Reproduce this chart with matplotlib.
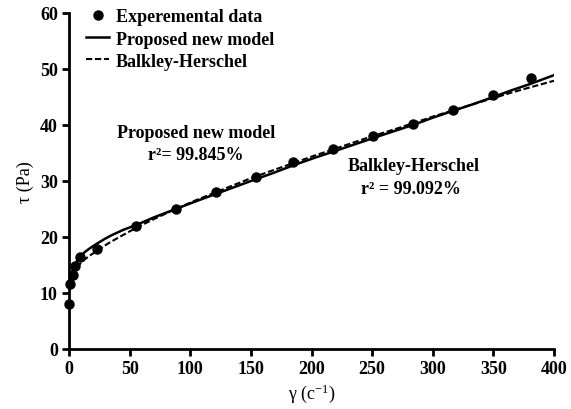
import matplotlib
matplotlib.use("Agg")
import matplotlib.pyplot as plt
from matplotlib.lines import Line2D

plt.rcParams['font.family'] = ['Liberation Serif', 'DejaVu Serif']
plt.rcParams['font.weight'] = 'bold'
plt.rcParams['mathtext.default'] = 'regular'

# Experimental data
shear_rate = [0, 1, 3, 5, 9, 23, 55, 88, 121, 154, 185, 218, 251, 284, 317, 350, 381]
stress = [8.1, 11.6, 13.2, 14.8, 16.5, 17.8, 22.0, 25.0, 28.0, 30.8, 33.4, 35.8, 38.0, 40.2, 42.6, 45.3, 48.4]

# Model curves
model_x = [0, 0.5, 1, 2, 3, 4.5, 6, 8, 10, 13, 16, 20, 23, 29, 35, 45, 55, 70, 88, 105, 120, 135, 150,
           168, 185, 202, 220, 235, 250, 268, 285, 300, 315, 333, 350, 365, 380, 390, 400]
proposed_y = [10.5, 11.6, 12.5, 13.4, 14.0, 14.8, 15.5, 16.2, 16.7, 17.3, 17.8, 18.4, 18.8, 19.6, 20.3, 21.3,
              22.1, 23.5, 25.0, 26.4, 27.6, 28.8, 30.0, 31.4, 32.8, 34.1, 35.4, 36.5, 37.6, 38.9, 40.1, 41.3,
              42.4, 43.7, 45.0, 46.2, 47.3, 48.1, 48.9]
hb_y = [10.0, 11.0, 11.8, 12.5, 13.0, 13.7, 14.3, 14.9, 15.4, 16.0, 16.5, 17.1, 17.5, 18.4, 19.2, 20.4,
        21.6, 23.2, 25.0, 26.6, 27.9, 29.2, 30.5, 31.9, 33.2, 34.5, 35.8, 36.9, 38.0, 39.2, 40.4, 41.5,
        42.5, 43.7, 44.8, 45.8, 46.7, 47.3, 47.9]

x_ticks = [0, 50, 100, 150, 200, 250, 300, 350, 400]
y_ticks = [0, 10, 20, 30, 40, 50, 60]

FS = 13

fig = plt.figure(figsize=(5.71, 4.10), dpi=100)
ax = fig.add_axes([69/571, 1-350/410, (554-69)/571, (350-14)/410])

ax.plot(model_x, proposed_y, '-', color='black', lw=1.8, zorder=3)
ax.plot(model_x, hb_y, '--', color='black', lw=1.5, dashes=(3, 1.3), zorder=3)
ax.plot(shear_rate, stress, 'o', color='black', ms=6.5, zorder=4, clip_on=False)

ax.set_xlim(0, 400)
ax.set_ylim(0, 60)
ax.set_xticks(x_ticks)
ax.set_yticks(y_ticks)
for s in ['top', 'right']:
    ax.spines[s].set_visible(False)
for s in ['left', 'bottom']:
    ax.spines[s].set_linewidth(2)
ax.tick_params(direction='out', length=5, width=2, labelsize=FS, pad=3)

ax.set_xlabel('γ (c$^{-1}$)', fontsize=FS, labelpad=3)
ax.set_ylabel('τ (Pa)', fontsize=FS, labelpad=4)

handles = [
    Line2D([], [], ls='none', marker='o', color='black', ms=6.5),
    Line2D([], [], ls='-', color='black', lw=1.8),
    Line2D([], [], ls='--', color='black', lw=1.5, dashes=(3, 1.3)),
]
labels = ['Experemental data', 'Proposed new model', 'Balkley-Herschel']
ax.legend(handles, labels, loc='upper left', bbox_to_anchor=(0.02, 1.035), frameon=False,
          fontsize=FS, handlelength=1.3, handletextpad=0.35, labelspacing=0.28, borderaxespad=0)

ax.text(105, 38.75, 'Proposed new model', fontsize=FS, ha='center', va='center')
ax.text(105, 34.8, 'r²= 99.845%', fontsize=FS, ha='center', va='center')
ax.text(284.5, 32.7, 'Balkley-Herschel', fontsize=FS, ha='center', va='center')
ax.text(282, 28.6, 'r² = 99.092%', fontsize=FS, ha='center', va='center')

fig.savefig('out.png', dpi=100)
